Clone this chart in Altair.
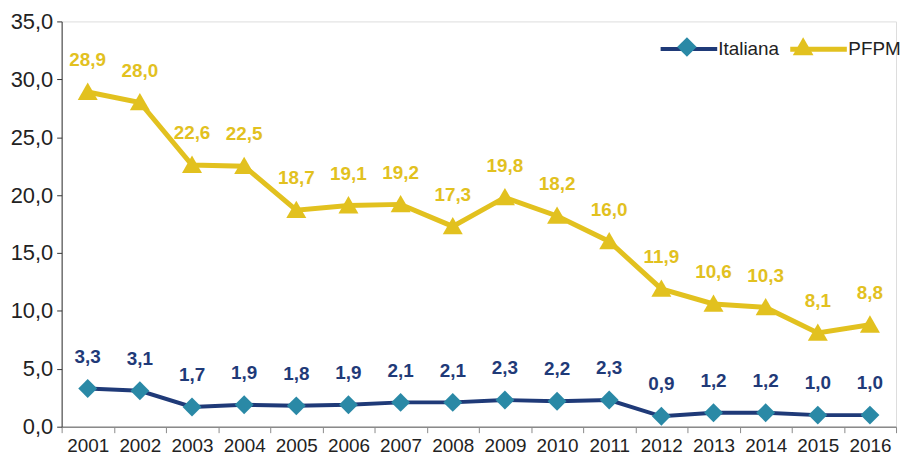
import altair as alt
import pandas as pd

years = [str(y) for y in range(2001, 2017)]
italiana = [3.3, 3.1, 1.7, 1.9, 1.8, 1.9, 2.1, 2.1, 2.3, 2.2, 2.3, 0.9, 1.2, 1.2, 1.0, 1.0]
pfpm = [28.9, 28.0, 22.6, 22.5, 18.7, 19.1, 19.2, 17.3, 19.8, 18.2, 16.0, 11.9, 10.6, 10.3, 8.1, 8.8]
series_names = ["Italiana", "PFPM"]
y_ticks = [0, 5, 10, 15, 20, 25, 30, 35]

NAVY = "#1f3a78"
TEAL = "#2a89a6"
YELLOW = "#e2c11f"
FONT = "Liberation Sans"

rows = []
for name, vals in zip(series_names, [italiana, pfpm]):
    for yr, v in zip(years, vals):
        rows.append({"year": yr, "value": v, "series": name, "series2": name})
df = pd.DataFrame(rows)

DIAMOND = "M0,-0.36L0.36,0L0,0.36L-0.36,0Z"
TRIANGLE = "M0,-0.36L0.38,0.3L-0.38,0.3Z"

x_enc = alt.X("year:N", sort=years, title=None,
              scale=alt.Scale(paddingInner=0, paddingOuter=0),
              axis=alt.Axis(tickBand="extent", labelAngle=0, labelFontSize=19, labelFont=FONT,
                            labelColor="#222222", domainColor="#8a8a8a", tickColor="#8a8a8a",
                            tickSize=6, labelPadding=4, domainWidth=1.5))
y_enc = alt.Y("value:Q", title=None,
              scale=alt.Scale(domain=[0, 35], nice=False),
              axis=alt.Axis(values=y_ticks, grid=False, labelFontSize=22, labelFont=FONT,
                            labelColor="#222222", domainColor="#333333", tickColor="#333333",
                            tickSize=5, labelPadding=4,
                            labelExpr="replace(format(datum.value, '.1f'), '.', ',')"))

base = alt.Chart(df)

legend_common = dict(orient="none", legendX=602, legendY=-2, direction="horizontal",
                     title=None, labelFontSize=19, labelFont=FONT, labelColor="#222222",
                     symbolSize=3000, columnPadding=0, labelOffset=0, padding=0)

lines = base.mark_line().encode(
    x=x_enc, y=y_enc,
    stroke=alt.Stroke("series:N", scale=alt.Scale(range=[NAVY, YELLOW]),
                      legend=alt.Legend(symbolType="M-1.04,0H1.04", symbolStrokeWidth=5, **legend_common)),
    strokeWidth=alt.StrokeWidth("series:N", scale=alt.Scale(range=[4, 5]), legend=None),
)

points = base.mark_point(filled=True, opacity=1, strokeWidth=0).encode(
    x=x_enc, y=y_enc,
    fill=alt.Fill("series2:N", scale=alt.Scale(domain=series_names, range=[TEAL, YELLOW]),
                  legend=alt.Legend(labelOpacity=0, symbolStrokeWidth=0, symbolOpacity=1,
                                    **legend_common)),
    shape=alt.Shape("series2:N", scale=alt.Scale(domain=series_names, range=[DIAMOND, TRIANGLE]),
                    legend=alt.Legend(labelOpacity=0, symbolStrokeWidth=0, symbolOpacity=1,
                                      **legend_common)),
    size=alt.value(2800),
)

labels = base.transform_calculate(
    label="replace(format(datum.value, '.1f'), '.', ',')"
).mark_text(fontSize=19, fontWeight="bold", font=FONT, dy=-32).encode(
    x=x_enc, y=y_enc,
    text="label:N",
    color=alt.Color("series:N", scale=alt.Scale(domain=["Italiana", "PFPM", "x"], range=[NAVY, YELLOW, "#000"]),
                    legend=None),
)

chart = alt.layer(lines, points, labels).properties(
    width=840, height=408,
    autosize=alt.AutoSizeParams(type="none"),
    padding={"left": 54, "top": 12, "right": 4, "bottom": 30},
).configure_view(stroke=None).configure(background="white")

chart.save("out.html", embed_options={"renderer": "svg", "actions": False})
